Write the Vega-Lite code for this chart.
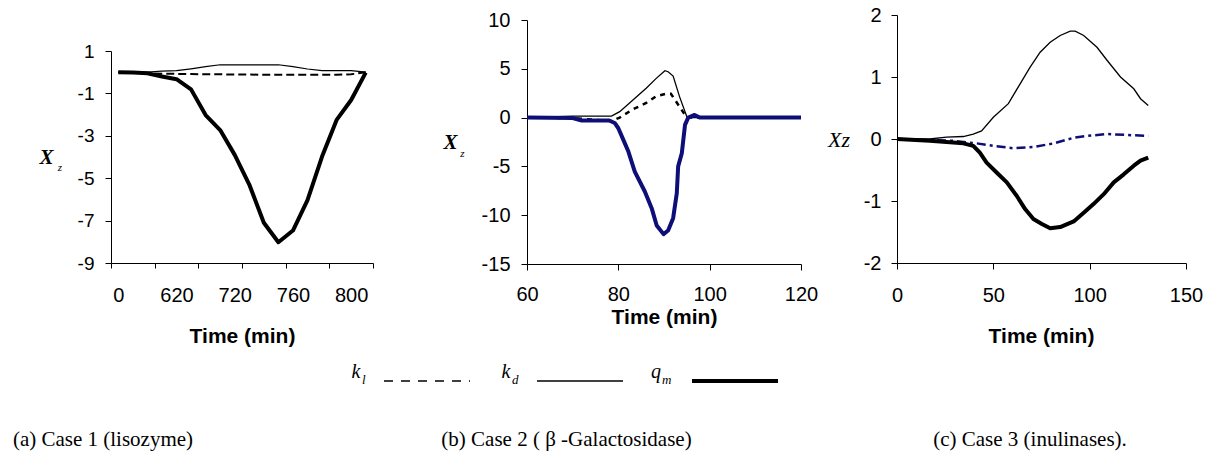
{
  "$schema": "https://vega.github.io/schema/vega-lite/v6.json",
  "width": 1213,
  "height": 456,
  "autosize": {"type": "none"},
  "padding": 0,
  "background": "white",
  "config": {
    "view": {"stroke": null},
    "axis": {
      "grid": false,
      "domainColor": "black",
      "tickColor": "black",
      "labelColor": "black",
      "titleColor": "black",
      "labelFont": "Liberation Sans",
      "labelFontSize": 20,
      "labelFlush": false,
      "labelOverlap": false,
      "labelBound": false,
      "domainWidth": 1,
      "tickWidth": 1
    }
  },
  "datasets": {
    "a": [
      {"series": "k_l", "cat": 0, "v": 0}, {"series": "k_l", "cat": 1, "v": -0.03}, {"series": "k_l", "cat": 2, "v": -0.05}, {"series": "k_l", "cat": 3, "v": -0.07}, {"series": "k_l", "cat": 4, "v": -0.08}, {"series": "k_l", "cat": 5, "v": -0.09}, {"series": "k_l", "cat": 6, "v": -0.1}, {"series": "k_l", "cat": 7, "v": -0.1}, {"series": "k_l", "cat": 8, "v": -0.11}, {"series": "k_l", "cat": 9, "v": -0.11}, {"series": "k_l", "cat": 10, "v": -0.12}, {"series": "k_l", "cat": 11, "v": -0.12}, {"series": "k_l", "cat": 12, "v": -0.12}, {"series": "k_l", "cat": 13, "v": -0.12}, {"series": "k_l", "cat": 14, "v": -0.12}, {"series": "k_l", "cat": 15, "v": -0.12}, {"series": "k_l", "cat": 16, "v": -0.1}, {"series": "k_l", "cat": 17, "v": 0},
      {"series": "k_d", "cat": 0, "v": 0}, {"series": "k_d", "cat": 1, "v": 0}, {"series": "k_d", "cat": 2, "v": 0.01}, {"series": "k_d", "cat": 3, "v": 0.05}, {"series": "k_d", "cat": 4, "v": 0.07}, {"series": "k_d", "cat": 5, "v": 0.16}, {"series": "k_d", "cat": 6, "v": 0.26}, {"series": "k_d", "cat": 7, "v": 0.35}, {"series": "k_d", "cat": 8, "v": 0.35}, {"series": "k_d", "cat": 9, "v": 0.35}, {"series": "k_d", "cat": 10, "v": 0.35}, {"series": "k_d", "cat": 11, "v": 0.35}, {"series": "k_d", "cat": 12, "v": 0.26}, {"series": "k_d", "cat": 13, "v": 0.15}, {"series": "k_d", "cat": 14, "v": 0.07}, {"series": "k_d", "cat": 15, "v": 0.07}, {"series": "k_d", "cat": 16, "v": 0.07}, {"series": "k_d", "cat": 17, "v": 0},
      {"series": "q_m", "cat": 0, "v": 0}, {"series": "q_m", "cat": 1, "v": -0.02}, {"series": "q_m", "cat": 2, "v": -0.05}, {"series": "q_m", "cat": 3, "v": -0.2}, {"series": "q_m", "cat": 4, "v": -0.33}, {"series": "q_m", "cat": 5, "v": -0.81}, {"series": "q_m", "cat": 6, "v": -2.02}, {"series": "q_m", "cat": 7, "v": -2.73}, {"series": "q_m", "cat": 8, "v": -3.9}, {"series": "q_m", "cat": 9, "v": -5.3}, {"series": "q_m", "cat": 10, "v": -7.1}, {"series": "q_m", "cat": 11, "v": -8.02}, {"series": "q_m", "cat": 12, "v": -7.47}, {"series": "q_m", "cat": 13, "v": -6.03}, {"series": "q_m", "cat": 14, "v": -3.98}, {"series": "q_m", "cat": 15, "v": -2.25}, {"series": "q_m", "cat": 16, "v": -1.31}, {"series": "q_m", "cat": 17, "v": -0.02}
    ],
    "b": [
      {"series": "k_l", "t": 60, "v": 0}, {"series": "k_l", "t": 70, "v": -0.05}, {"series": "k_l", "t": 78.5, "v": -0.35}, {"series": "k_l", "t": 80.3, "v": 0}, {"series": "k_l", "t": 83.2, "v": 0.85}, {"series": "k_l", "t": 86.1, "v": 1.5}, {"series": "k_l", "t": 88.3, "v": 2.2}, {"series": "k_l", "t": 90.5, "v": 2.45}, {"series": "k_l", "t": 91.5, "v": 2.45}, {"series": "k_l", "t": 95, "v": 0}, {"series": "k_l", "t": 120, "v": 0},
      {"series": "k_d", "t": 60, "v": 0}, {"series": "k_d", "t": 70, "v": 0.15}, {"series": "k_d", "t": 78.5, "v": 0.15}, {"series": "k_d", "t": 80.3, "v": 0.61}, {"series": "k_d", "t": 83.2, "v": 1.81}, {"series": "k_d", "t": 86.1, "v": 3.0}, {"series": "k_d", "t": 88.3, "v": 4.02}, {"series": "k_d", "t": 90.2, "v": 4.8}, {"series": "k_d", "t": 90.9, "v": 4.7}, {"series": "k_d", "t": 92, "v": 4.26}, {"series": "k_d", "t": 93.4, "v": 2.15}, {"series": "k_d", "t": 95, "v": 0.1}, {"series": "k_d", "t": 96, "v": 0}, {"series": "k_d", "t": 120, "v": 0},
      {"series": "q_m", "t": 60, "v": 0}, {"series": "q_m", "t": 70, "v": -0.05}, {"series": "q_m", "t": 72, "v": -0.3}, {"series": "q_m", "t": 78, "v": -0.3}, {"series": "q_m", "t": 79.2, "v": -0.55}, {"series": "q_m", "t": 80, "v": -1.09}, {"series": "q_m", "t": 81.1, "v": -2.28}, {"series": "q_m", "t": 82.2, "v": -3.48}, {"series": "q_m", "t": 83.6, "v": -5.53}, {"series": "q_m", "t": 85.8, "v": -7.57}, {"series": "q_m", "t": 87.3, "v": -9.28}, {"series": "q_m", "t": 88.4, "v": -11.05}, {"series": "q_m", "t": 89.9, "v": -11.94}, {"series": "q_m", "t": 90.9, "v": -11.57}, {"series": "q_m", "t": 92, "v": -10.3}, {"series": "q_m", "t": 92.8, "v": -7.75}, {"series": "q_m", "t": 93.1, "v": -5.0}, {"series": "q_m", "t": 93.9, "v": -3.65}, {"series": "q_m", "t": 94.6, "v": -0.75}, {"series": "q_m", "t": 95.3, "v": 0}, {"series": "q_m", "t": 96.7, "v": 0.27}, {"series": "q_m", "t": 97.8, "v": 0}, {"series": "q_m", "t": 120, "v": 0}
    ],
    "c": [
      {"series": "k_l", "t": 0, "v": 0}, {"series": "k_l", "t": 29.2, "v": -0.03}, {"series": "k_l", "t": 41.3, "v": -0.07}, {"series": "k_l", "t": 50, "v": -0.11}, {"series": "k_l", "t": 60.4, "v": -0.15}, {"series": "k_l", "t": 70.8, "v": -0.13}, {"series": "k_l", "t": 81.3, "v": -0.07}, {"series": "k_l", "t": 91.7, "v": 0.02}, {"series": "k_l", "t": 98.6, "v": 0.05}, {"series": "k_l", "t": 109, "v": 0.08}, {"series": "k_l", "t": 130.4, "v": 0.05},
      {"series": "k_d", "t": 0, "v": 0}, {"series": "k_d", "t": 17, "v": 0}, {"series": "k_d", "t": 25.7, "v": 0.03}, {"series": "k_d", "t": 34.4, "v": 0.04}, {"series": "k_d", "t": 39.6, "v": 0.08}, {"series": "k_d", "t": 43.9, "v": 0.13}, {"series": "k_d", "t": 50, "v": 0.35}, {"series": "k_d", "t": 57.8, "v": 0.57}, {"series": "k_d", "t": 63.9, "v": 0.89}, {"series": "k_d", "t": 69.1, "v": 1.16}, {"series": "k_d", "t": 74.3, "v": 1.4}, {"series": "k_d", "t": 79.5, "v": 1.56}, {"series": "k_d", "t": 84.7, "v": 1.67}, {"series": "k_d", "t": 89.9, "v": 1.74}, {"series": "k_d", "t": 92.5, "v": 1.74}, {"series": "k_d", "t": 96.9, "v": 1.67}, {"series": "k_d", "t": 103.8, "v": 1.48}, {"series": "k_d", "t": 109, "v": 1.27}, {"series": "k_d", "t": 116, "v": 1.0}, {"series": "k_d", "t": 122.9, "v": 0.81}, {"series": "k_d", "t": 126.4, "v": 0.65}, {"series": "k_d", "t": 130.4, "v": 0.54},
      {"series": "q_m", "t": 0, "v": 0}, {"series": "q_m", "t": 17, "v": -0.03}, {"series": "q_m", "t": 25.7, "v": -0.05}, {"series": "q_m", "t": 34.4, "v": -0.07}, {"series": "q_m", "t": 39.6, "v": -0.11}, {"series": "q_m", "t": 43, "v": -0.22}, {"series": "q_m", "t": 46.5, "v": -0.38}, {"series": "q_m", "t": 51.7, "v": -0.54}, {"series": "q_m", "t": 57, "v": -0.7}, {"series": "q_m", "t": 62.2, "v": -0.92}, {"series": "q_m", "t": 66.5, "v": -1.13}, {"series": "q_m", "t": 70.8, "v": -1.29}, {"series": "q_m", "t": 75.2, "v": -1.37}, {"series": "q_m", "t": 79.5, "v": -1.44}, {"series": "q_m", "t": 84.7, "v": -1.42}, {"series": "q_m", "t": 91.7, "v": -1.33}, {"series": "q_m", "t": 96.9, "v": -1.19}, {"series": "q_m", "t": 102, "v": -1.05}, {"series": "q_m", "t": 107.3, "v": -0.89}, {"series": "q_m", "t": 112.5, "v": -0.7}, {"series": "q_m", "t": 117.7, "v": -0.57}, {"series": "q_m", "t": 122.9, "v": -0.43}, {"series": "q_m", "t": 126.4, "v": -0.35}, {"series": "q_m", "t": 130.4, "v": -0.3}
    ],
    "legend": [
      {"series": "k_l", "main": "k", "sub": "l", "row": "legend"},
      {"series": "k_d", "main": "k", "sub": "d", "row": "legend"},
      {"series": "q_m", "main": "q", "sub": "m", "row": "legend"}
    ],
    "captions": [
      {"panel": "a", "caption": "(a) Case 1 (lisozyme)", "row": "caption"},
      {"panel": "b", "caption": "(b) Case 2 ( β -Galactosidase)", "row": "caption"},
      {"panel": "c", "caption": "(c) Case 3 (inulinases).", "row": "caption"}
    ]
  },
  "layer": [
    {
      "data": {"name": "a"},
      "layer": [
        {
          "transform": [{"filter": "datum.series === 'k_l'"}],
          "mark": {"type": "line", "color": "black", "strokeWidth": 2, "strokeDash": [8, 4]},
          "encoding": {
            "x": {"field": "cat", "type": "quantitative", "scale": {"domain": [-0.5, 17.5], "range": [111, 373], "nice": false, "zero": false},
              "axis": {"orient": "bottom", "offset": -193, "values": [-0.5, 2.5, 5.5, 8.5, 11.5, 14.5, 17.5], "labels": false, "tickSize": 5,
                "title": "Time (min)", "titleFont": "Liberation Sans", "titleFontWeight": "bold", "titleFontSize": 21, "titleAlign": "center", "titleBaseline": "alphabetic", "titleX": 242, "titleY": 79}},
            "y": {"field": "v", "type": "quantitative", "scale": {"domain": [-9, 1], "range": [263, 51], "nice": false, "zero": false},
              "axis": {"orient": "left", "offset": -111, "values": [1, -1, -3, -5, -7, -9], "labelExpr": "toString(datum.value)", "tickSize": 6, "labelPadding": 11, "labelFontSize": 19,
                "title": "X", "titleFont": "Liberation Serif", "titleFontStyle": "italic", "titleFontWeight": "bold", "titleFontSize": 21, "titleAngle": 0, "titleAlign": "center", "titleBaseline": "alphabetic", "titleX": -65, "titleY": 163}}
          }
        },
        {
          "transform": [{"filter": "datum.series === 'k_d'"}],
          "mark": {"type": "line", "color": "black", "strokeWidth": 1.2},
          "encoding": {
            "x": {"field": "cat", "type": "quantitative", "scale": {"domain": [-0.5, 17.5], "range": [111, 373], "nice": false, "zero": false},
              "axis": {"orient": "bottom", "offset": -193, "values": [0, 4, 8, 12, 16], "ticks": false, "tickSize": 0, "domain": false, "labelPadding": 38, "labelBaseline": "alphabetic",
                "labelExpr": "datum.value == 0 ? '0' : datum.value == 4 ? '620' : datum.value == 8 ? '720' : datum.value == 12 ? '760' : '800'", "title": null}},
            "y": {"field": "v", "type": "quantitative", "scale": {"domain": [-9, 1], "range": [263, 51], "nice": false, "zero": false},
              "axis": {"orient": "left", "offset": -111, "labels": false, "ticks": false, "domain": false,
                "title": "z", "titleFont": "Liberation Serif", "titleFontStyle": "italic", "titleFontWeight": "normal", "titleFontSize": 11, "titleAngle": 0, "titleAlign": "center", "titleBaseline": "alphabetic", "titleX": -51.5, "titleY": 170}}
          }
        },
        {
          "transform": [{"filter": "datum.series === 'q_m'"}],
          "mark": {"type": "line", "color": "black", "strokeWidth": 4, "strokeJoin": "round"},
          "encoding": {
            "x": {"field": "cat", "type": "quantitative", "scale": {"domain": [-0.5, 17.5], "range": [111, 373], "nice": false, "zero": false}, "axis": null},
            "y": {"field": "v", "type": "quantitative", "scale": {"domain": [-9, 1], "range": [263, 51], "nice": false, "zero": false}, "axis": null}
          }
        }
      ],
      "resolve": {"axis": {"x": "independent", "y": "independent"}}
    },
    {
      "data": {"name": "b"},
      "layer": [
        {
          "transform": [{"filter": "datum.series === 'k_l'"}],
          "mark": {"type": "line", "color": "black", "strokeWidth": 2.5, "strokeDash": [5, 5]},
          "encoding": {
            "x": {"field": "t", "type": "quantitative", "scale": {"domain": [60, 120], "range": [527, 801], "nice": false, "zero": false},
              "axis": {"orient": "bottom", "offset": -192, "values": [60, 80, 100, 120], "tickSize": 6, "labelPadding": 30, "labelBaseline": "alphabetic",
                "title": "Time (min)", "titleFont": "Liberation Sans", "titleFontWeight": "bold", "titleFontSize": 21, "titleAlign": "center", "titleBaseline": "alphabetic", "titleX": 664, "titleY": 59}},
            "y": {"field": "v", "type": "quantitative", "scale": {"domain": [-15, 10], "range": [264, 20], "nice": false, "zero": false},
              "axis": {"orient": "left", "offset": -527, "values": [10, 5, 0, -5, -10, -15], "labelExpr": "toString(datum.value)", "tickSize": 6, "labelPadding": 11,
                "title": "X", "titleFont": "Liberation Serif", "titleFontStyle": "italic", "titleFontWeight": "bold", "titleFontSize": 21, "titleAngle": 0, "titleAlign": "center", "titleBaseline": "alphabetic", "titleX": -77, "titleY": 148}}
          }
        },
        {
          "transform": [{"filter": "datum.series === 'k_d'"}],
          "mark": {"type": "line", "color": "black", "strokeWidth": 1.3},
          "encoding": {
            "x": {"field": "t", "type": "quantitative", "scale": {"domain": [60, 120], "range": [527, 801], "nice": false, "zero": false}, "axis": null},
            "y": {"field": "v", "type": "quantitative", "scale": {"domain": [-15, 10], "range": [264, 20], "nice": false, "zero": false},
              "axis": {"orient": "left", "offset": -527, "labels": false, "ticks": false, "domain": false,
                "title": "z", "titleFont": "Liberation Serif", "titleFontStyle": "italic", "titleFontWeight": "normal", "titleFontSize": 11, "titleAngle": 0, "titleAlign": "center", "titleBaseline": "alphabetic", "titleX": -65, "titleY": 156}}
          }
        },
        {
          "transform": [{"filter": "datum.series === 'q_m'"}],
          "mark": {"type": "line", "color": "#0e0e78", "strokeWidth": 4, "strokeJoin": "round"},
          "encoding": {
            "x": {"field": "t", "type": "quantitative", "scale": {"domain": [60, 120], "range": [527, 801], "nice": false, "zero": false}, "axis": null},
            "y": {"field": "v", "type": "quantitative", "scale": {"domain": [-15, 10], "range": [264, 20], "nice": false, "zero": false}, "axis": null}
          }
        }
      ],
      "resolve": {"axis": {"x": "independent", "y": "independent"}}
    },
    {
      "data": {"name": "c"},
      "layer": [
        {
          "transform": [{"filter": "datum.series === 'k_d'"}],
          "mark": {"type": "line", "color": "black", "strokeWidth": 1.3},
          "encoding": {
            "x": {"field": "t", "type": "quantitative", "scale": {"domain": [0, 150], "range": [897, 1186], "nice": false, "zero": false},
              "axis": {"orient": "bottom", "offset": -193, "values": [0, 50, 100, 150], "tickSize": 6, "labelPadding": 32, "labelBaseline": "alphabetic",
                "title": "Time (min)", "titleFont": "Liberation Sans", "titleFontWeight": "bold", "titleFontSize": 21, "titleAlign": "center", "titleBaseline": "alphabetic", "titleX": 1041, "titleY": 79}},
            "y": {"field": "v", "type": "quantitative", "scale": {"domain": [-2, 2], "range": [263, 15], "nice": false, "zero": false},
              "axis": {"orient": "left", "offset": -897, "values": [2, 1, 0, -1, -2], "labelExpr": "toString(datum.value)", "tickSize": 6, "labelPadding": 10,
                "title": "Xz", "titleFont": "Liberation Serif", "titleFontStyle": "italic", "titleFontWeight": "normal", "titleFontSize": 22, "titleAngle": 0, "titleAlign": "center", "titleBaseline": "alphabetic", "titleX": -58.5, "titleY": 146}}
          }
        },
        {
          "transform": [{"filter": "datum.series === 'k_l'"}],
          "mark": {"type": "line", "color": "#0e0e78", "strokeWidth": 2.5, "strokeDash": [9, 4, 3, 4]},
          "encoding": {
            "x": {"field": "t", "type": "quantitative", "scale": {"domain": [0, 150], "range": [897, 1186], "nice": false, "zero": false}, "axis": null},
            "y": {"field": "v", "type": "quantitative", "scale": {"domain": [-2, 2], "range": [263, 15], "nice": false, "zero": false}, "axis": null}
          }
        },
        {
          "transform": [{"filter": "datum.series === 'q_m'"}],
          "mark": {"type": "line", "color": "black", "strokeWidth": 4, "strokeJoin": "round"},
          "encoding": {
            "x": {"field": "t", "type": "quantitative", "scale": {"domain": [0, 150], "range": [897, 1186], "nice": false, "zero": false}, "axis": null},
            "y": {"field": "v", "type": "quantitative", "scale": {"domain": [-2, 2], "range": [263, 15], "nice": false, "zero": false}, "axis": null}
          }
        }
      ],
      "resolve": {"axis": {"x": "independent", "y": "independent"}}
    },
    {
      "data": {"name": "legend"},
      "encoding": {
        "x": {"field": "series", "type": "nominal", "sort": null, "scale": {"type": "point", "domain": ["k_l", "k_d", "q_m"], "range": [356, 656], "padding": 0}, "axis": null},
        "y": {"field": "row", "type": "nominal", "scale": {"type": "point", "domain": ["legend"], "range": [378, 378], "padding": 0}, "axis": null}
      },
      "layer": [
        {"mark": {"type": "text", "font": "Liberation Serif", "fontStyle": "italic", "fontSize": 20, "align": "center", "baseline": "alphabetic"}, "encoding": {"text": {"field": "main"}}},
        {"mark": {"type": "text", "font": "Liberation Serif", "fontStyle": "italic", "fontSize": 13, "align": "left", "baseline": "alphabetic", "dx": 6, "dy": 6}, "encoding": {"text": {"field": "sub"}}},
        {"transform": [{"filter": "datum.series === 'k_l'"}], "mark": {"type": "point", "shape": "stroke", "size": 7396, "filled": false, "stroke": "black", "strokeWidth": 1.5, "strokeDash": [9, 8], "opacity": 1, "xOffset": 71, "yOffset": 3}},
        {"transform": [{"filter": "datum.series === 'k_d'"}], "mark": {"type": "point", "shape": "stroke", "size": 7396, "filled": false, "stroke": "black", "strokeWidth": 1.3, "opacity": 1, "xOffset": 74, "yOffset": 3}},
        {"transform": [{"filter": "datum.series === 'q_m'"}], "mark": {"type": "point", "shape": "stroke", "size": 7396, "filled": false, "stroke": "black", "strokeWidth": 4, "opacity": 1, "xOffset": 79, "yOffset": 3}}
      ]
    },
    {
      "data": {"name": "captions"},
      "mark": {"type": "text", "font": "Liberation Serif", "fontSize": 21, "align": "center", "baseline": "alphabetic", "color": "black"},
      "encoding": {
        "x": {"field": "panel", "type": "nominal", "sort": null, "scale": {"type": "point", "domain": ["a", "b", "c"], "range": [103, 1030], "padding": 0}, "axis": null},
        "y": {"field": "row", "type": "nominal", "scale": {"type": "point", "domain": ["caption"], "range": [446, 446], "padding": 0}, "axis": null},
        "text": {"field": "caption"}
      }
    }
  ],
  "resolve": {"scale": {"x": "independent", "y": "independent"}}
}
